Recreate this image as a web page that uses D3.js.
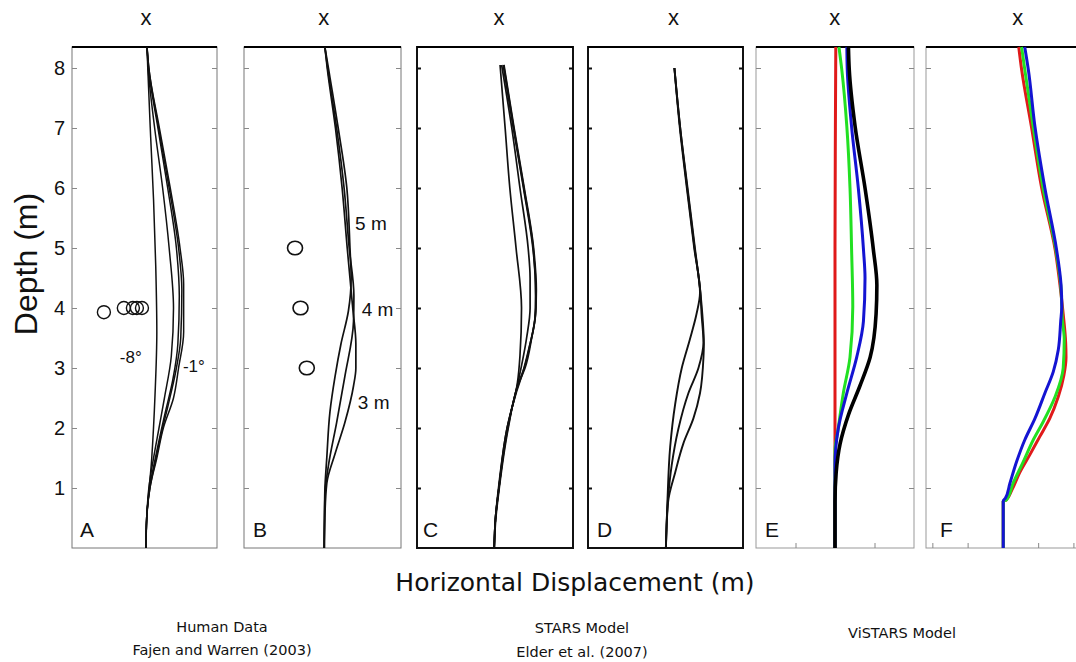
<!DOCTYPE html>
<html>
<head>
<meta charset="utf-8">
<script src="https://cdnjs.cloudflare.com/ajax/libs/d3/7.8.5/d3.min.js"></script>
<style>
  body { margin: 0; background: #fff; }
  text { font-family: "Liberation Sans", Arial, Helvetica, sans-serif; fill: #111; }
  .caption { font-family: "DejaVu Sans", Verdana, sans-serif; }
</style>
</head>
<body>
<svg id="chart" width="1076" height="662"></svg>
<script>
// ---- data (depth in m, horizontal displacement in m) ----
var depthTicks = [1, 2, 3, 4, 5, 6, 7, 8];
var panelLetters = ["A", "B", "C", "D", "E", "F"];
var goalLabel = "x";

// A: human paths, obstacle at 4 m, different angles (-8 .. -1 deg)
var curvesA = [
  [[8.35,0.07],[8,0.09],[6.85,0.17],[5.8,0.25],[4.7,0.31],[3.6,0.34],[2.55,0.29],[1.5,0.20],[0.45,0.06],[0,0.04]],
  [[8.35,0.07],[8,0.10],[7,0.28],[6,0.50],[5,0.68],[4,0.80],[3.2,0.74],[2.5,0.55],[2,0.40],[1.5,0.25],[1,0.12],[0.5,0.06],[0,0.04]],
  [[8.35,0.07],[8,0.11],[7,0.37],[6,0.64],[5,0.88],[4.2,0.96],[3.4,0.92],[2.8,0.78],[2.2,0.55],[1.5,0.30],[1,0.14],[0.5,0.06],[0,0.04]],
  [[8.35,0.07],[8,0.12],[7,0.39],[6,0.68],[5,0.94],[4.3,1.03],[3.5,1.0],[3,0.88],[2.4,0.66],[2,0.50],[1.5,0.32],[1,0.15],[0.5,0.06],[0,0.04]],
  [[8.35,0.07],[8,0.12],[7,0.41],[6,0.71],[5,0.98],[4.4,1.08],[3.6,1.08],[3,0.94],[2.5,0.80],[2,0.52],[1.5,0.34],[1,0.15],[0.5,0.06],[0,0.04]]
];
var obstaclesA = [[3.93,-1.12],[4.0,-0.57],[4.0,-0.32],[4.0,-0.21],[4.0,-0.07]];
var labelsA = ["-8°", "-1°"];

// B: human paths, obstacle at 5, 4, 3 m
var curvesB = [
  [[8.35,0.06],[8,0.15],[7,0.40],[6,0.62],[5,0.70],[4.5,0.73],[3.95,0.66],[3.4,0.47],[2.86,0.32],[2.27,0.19],[1.51,0.11],[0.96,0.06],[0.5,0.05],[0,0.04]],
  [[8.35,0.06],[8,0.13],[7,0.36],[6,0.55],[5,0.68],[4.2,0.80],[3.77,0.79],[2.86,0.57],[2.09,0.36],[1.37,0.15],[0.96,0.07],[0.5,0.05],[0,0.04]],
  [[8.35,0.06],[8,0.12],[7,0.33],[6,0.50],[5,0.63],[4.5,0.70],[4,0.77],[3.4,0.85],[3.0,0.85],[2.7,0.79],[2.09,0.57],[1.57,0.32],[1.08,0.11],[0.5,0.06],[0,0.05]]
];
var obstaclesB = [[5,-0.70],[4,-0.56],[3,-0.40]];
var labelsB = ["5 m", "4 m", "3 m"];

// C: STARS model, angle conditions
var curvesC = [
  [[8.05,0.13],[7,0.26],[6,0.38],[5,0.54],[4,0.68],[3.2,0.64],[2.73,0.57],[2.0,0.31],[1,0.09],[0.48,0.01],[0,-0.02]],
  [[8.05,0.17],[7,0.43],[6,0.64],[5,0.85],[4.5,0.90],[4,0.90],[3.5,0.81],[2.73,0.58],[2.0,0.32],[1,0.10],[0.48,0.01],[0,-0.02]],
  [[8.05,0.21],[7,0.47],[6,0.73],[5,0.97],[4.3,1.05],[4,1.05],[3.5,0.94],[3,0.77],[2.73,0.60],[2.0,0.33],[1,0.10],[0.48,0.01],[0,-0.02]],
  [[8.05,0.23],[7,0.49],[6,0.75],[5,0.99],[4.3,1.06],[3.9,1.04],[3.4,0.90],[3,0.75],[2.73,0.59],[2.0,0.34],[1,0.11],[0.48,0.02],[0,-0.02]],
  [[8.05,0.22],[7,0.48],[6,0.74],[5,0.98],[4.2,1.04],[3.8,1.02],[3.3,0.86],[2.9,0.70],[2.6,0.55],[2.0,0.31],[1,0.10],[0.48,0.01],[0,-0.02]]
];

// D: STARS model, distance conditions
var curvesD = [
  [[8.0,0.23],[7,0.37],[6,0.55],[5,0.74],[4.26,0.89],[3.9,0.80],[3.48,0.63],[3.0,0.42],[2.4,0.25],[1.68,0.12],[0.78,0.05],[0,0.01]],
  [[8.0,0.23],[7,0.38],[6,0.56],[5,0.75],[4.26,0.90],[3.9,0.93],[3.42,0.98],[3.0,0.85],[2.58,0.59],[1.98,0.33],[1.38,0.16],[0.78,0.06],[0,0.01]],
  [[8.0,0.23],[7,0.38],[6,0.57],[5,0.76],[4.26,0.90],[3.9,0.95],[3.4,0.99],[3.18,0.98],[2.58,0.89],[2.16,0.72],[1.74,0.46],[1.26,0.25],[0.78,0.07],[0,0.01]]
];

// E: ViSTARS, angle conditions (red, green, blue, black)
var curvesE = [
  [[8.35,0.02],[7,0.01],[5,0.0],[3,0.0],[1.6,0.0],[0,0.0]],
  [[8.35,0.10],[7.98,0.17],[7.02,0.30],[6,0.38],[4.98,0.42],[4.02,0.45],[3.18,0.38],[2.58,0.21],[1.98,0.08],[1.62,0.0],[0,0.0]],
  [[8.35,0.30],[7.98,0.31],[7.02,0.42],[6,0.59],[4.98,0.72],[4.5,0.76],[3.78,0.72],[3.18,0.55],[2.58,0.30],[1.98,0.08],[1.38,0.0],[0,0.0]],
  [[8.35,0.34],[7.98,0.36],[7.02,0.51],[6,0.76],[4.98,0.97],[4.38,1.06],[3.9,1.04],[3.18,0.89],[2.70,0.63],[2.22,0.34],[1.74,0.13],[1.26,0.03],[0.77,0.0],[0,0.0]]
];
var xTicksE = [-1, 0, 1];

// F: ViSTARS, distance conditions (red, green, blue)
var curvesF = [
  [[8.35,0.45],[7.98,0.53],[7.02,0.81],[6.0,1.10],[4.98,1.48],[4.38,1.62],[3.90,1.71],[3.42,1.78],[3.18,1.79],[2.88,1.73],[2.52,1.57],[2.16,1.33],[1.86,1.05],[1.56,0.77],[1.26,0.48],[0.96,0.25],[0.80,0.09],[0.78,0.01],[0,0.01]],
  [[8.35,0.53],[7.98,0.62],[7.02,0.86],[6.0,1.14],[4.98,1.50],[4.38,1.64],[3.78,1.69],[3.48,1.74],[3.0,1.71],[2.52,1.48],[2.10,1.14],[1.80,0.86],[1.44,0.58],[1.08,0.29],[0.80,0.10],[0.78,0.01],[0,0.01]],
  [[8.35,0.62],[7.98,0.72],[7.02,0.91],[6.0,1.19],[4.98,1.52],[4.38,1.65],[4.02,1.67],[3.78,1.64],[3.30,1.57],[2.94,1.43],[2.58,1.19],[2.16,0.91],[1.80,0.62],[1.44,0.39],[1.08,0.20],[0.83,0.07],[0.78,0.01],[0,0.01]]
];
var xTicksF = [-2, -1, 0, 1, 2];

var yLabel = "Depth (m)";
var xLabel = "Horizontal Displacement (m)";
var captions = [["Human Data", "Fajen and Warren (2003)"], ["STARS Model", "Elder et al. (2007)"], ["ViSTARS Model"]];

// ---- layout ----
var svg = d3.select("#chart");
var y = d3.scaleLinear().domain([0, 8.35]).range([548, 47]);

var panels = [
  {left: 72,  width: 145, xDom: [-2, 2], curves: curvesA, colors: ["#111"], lw: 1.5, style: "scan", letterDx: 8},
  {left: 244, width: 157, xDom: [-2, 2], curves: curvesB, colors: ["#111"], lw: 1.7, style: "scan", letterDx: 9},
  {left: 417, width: 156, xDom: [-2, 2], curves: curvesC, colors: ["#111"], lw: 1.7, style: "box",  letterDx: 6},
  {left: 588, width: 155, xDom: [-2, 2], curves: curvesD, colors: ["#111"], lw: 1.9, style: "box",  letterDx: 9},
  {left: 756, width: 158, xDom: [-2, 2], curves: curvesE, colors: ["#e01a1a", "#22e022", "#1414d2", "#000"], lw: 3, style: "mat", letterDx: 9, xTicks: xTicksE},
  {left: 926, width: 158, xDom: [-2.18, 2.30], curves: curvesF, colors: ["#e01a1a", "#22e022", "#1414d2"], lw: 3, style: "mat", letterDx: 14, xTicks: xTicksF}
];

panels.forEach(function (p, i) {
  var x = d3.scaleLinear().domain(p.xDom).range([p.left, p.left + p.width]);
  var g = svg.append("g").attr("class", "panel");
  var boxed = p.style === "box";
  var edge = boxed ? "#111" : (p.style === "mat" ? "#999" : "#777");

  // frame
  g.append("rect")
    .attr("x", p.left).attr("y", y(8.35))
    .attr("width", p.width).attr("height", y(0) - y(8.35))
    .attr("fill", "none").attr("stroke", edge)
    .attr("stroke-width", boxed ? 2 : 1);
  g.append("line")
    .attr("x1", p.left).attr("x2", Math.min(p.left + p.width, 1076))
    .attr("y1", y(8.35)).attr("y2", y(8.35))
    .attr("stroke", "#000").attr("stroke-width", 2.2);

  // inner ticks on both sides
  var tl = d3.axisRight(y).tickValues(depthTicks).tickSize(boxed ? 4 : 5).tickFormat("");
  var tr = d3.axisLeft(y).tickValues(depthTicks).tickSize(boxed ? 4 : 5).tickFormat("");
  [[tl, p.left], [tr, p.left + p.width]].forEach(function (a) {
    var ax = g.append("g").attr("transform", "translate(" + a[1] + ",0)").call(a[0]);
    ax.select(".domain").remove();
    ax.selectAll("line").attr("stroke", boxed ? "#111" : "#888").attr("stroke-width", boxed ? 2 : 1);
  });
  if (p.xTicks) {
    var bx = g.append("g").attr("transform", "translate(0," + y(0) + ")")
      .call(d3.axisTop(x).tickValues(p.xTicks).tickSize(5).tickFormat(""));
    bx.select(".domain").remove();
    bx.selectAll("line").attr("stroke", "#888");
  }

  // paths
  var line = d3.line().x(function (d) { return x(d[1]); }).y(function (d) { return y(d[0]); })
    .curve(d3.curveMonotoneY);
  g.selectAll("path.traj").data(p.curves).enter().append("path")
    .attr("class", "traj")
    .attr("d", line)
    .attr("fill", "none")
    .attr("stroke", function (d, j) { return p.colors[j % p.colors.length]; })
    .attr("stroke-width", function (d, j) { return p.style === "mat" && j === 3 ? 3.6 : p.lw; })
    .attr("stroke-linejoin", "round");

  // goal marker and panel letter
  svg.append("text").attr("x", x(p.curves[0][0][1]) - 1).attr("y", 25)
    .attr("text-anchor", "middle").style("font-size", "22px").text(goalLabel);
  svg.append("text").attr("x", p.left + p.letterDx).attr("y", 537)
    .style("font-size", "21px").text(panelLetters[i]);

  p.x = x;
});

// obstacles
var xa = panels[0].x, xb = panels[1].x;
svg.selectAll("circle.obsA").data(obstaclesA).enter().append("circle")
  .attr("cx", function (d) { return xa(d[1]); }).attr("cy", function (d) { return y(d[0]); })
  .attr("r", 6.5).attr("fill", "none").attr("stroke", "#111").attr("stroke-width", 1.4);
svg.selectAll("ellipse.obsB").data(obstaclesB).enter().append("ellipse")
  .attr("cx", function (d) { return xb(d[1]); }).attr("cy", function (d) { return y(d[0]); })
  .attr("rx", 7.5).attr("ry", 6.8).attr("fill", "none").attr("stroke", "#111").attr("stroke-width", 1.6);

// annotations
var annA = [[-0.68, 3.08], [1.06, 2.93]];
labelsA.forEach(function (t, i) {
  svg.append("text").attr("x", xa(annA[i][0])).attr("y", y(annA[i][1]))
    .style("font-size", "17px").text(t);
});
var annB = [[0.83, 5.3], [1.0, 3.87], [0.9, 2.32]];
labelsB.forEach(function (t, i) {
  svg.append("text").attr("x", xb(annB[i][0])).attr("y", y(annB[i][1]))
    .style("font-size", "19px").text(t);
});

// y axis labels
var ya = svg.append("g").attr("transform", "translate(72,0)")
  .call(d3.axisLeft(y).tickValues(depthTicks).tickSize(0).tickPadding(7));
ya.select(".domain").remove();
ya.selectAll("text").style("font-size", "20px")
  .style("font-family", "'Liberation Sans', Arial, sans-serif").attr("fill", "#111");

svg.append("text").attr("transform", "translate(37,264) rotate(-90)")
  .attr("text-anchor", "middle").style("font-size", "32px").text(yLabel);

svg.append("text").attr("class", "caption").attr("x", 575).attr("y", 591)
  .attr("text-anchor", "middle").style("font-size", "25px").text(xLabel);

var capX = [222, 582, 902];
var capY = [[632, 655], [633, 657], [638]];
captions.forEach(function (c, i) {
  c.forEach(function (t, j) {
    svg.append("text").attr("class", "caption").attr("x", capX[i]).attr("y", capY[i][j])
      .attr("text-anchor", "middle").style("font-size", "14.5px").text(t);
  });
});
</script>
</body>
</html>
